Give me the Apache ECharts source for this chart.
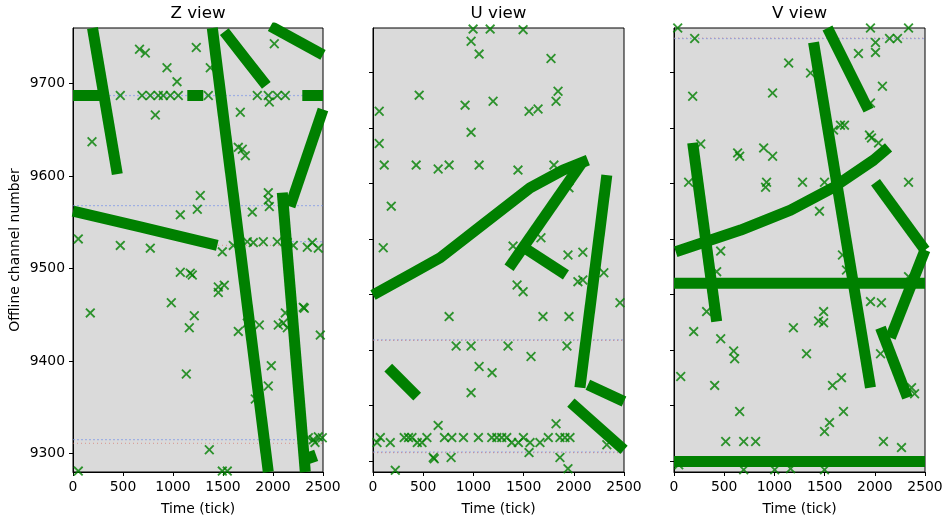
<!DOCTYPE html>
<html>
<head>
<meta charset="utf-8">
<script src="https://cdn.jsdelivr.net/npm/echarts@6/dist/echarts.min.js"></script>
<style>
  html, body { margin: 0; padding: 0; background: #fff; }
  #chart { width: 944px; height: 517px; }
</style>
</head>
<body>
<div id="chart"></div>
<script>
// axis ranges / ticks
const timeTicks = [0, 500, 1000, 1500, 2000, 2500]
const zRange = [9280, 9760]
const uRange = [7680, 8480]
const vRange = [8480, 9280]
const zChTicks = [9300, 9400, 9500, 9600, 9700]
const uChTicks = [7700, 7800, 7900, 8000, 8100, 8200, 8300, 8400]
const vChTicks = [8500, 8600, 8700, 8800, 8900, 9000, 9100, 9200]
const viewNames = ['Z view', 'U view', 'V view']

// dense hit tracks, [tick, channel] vertices
const zTracks = [
  [[195, 9760], [443, 9602]],
  [[1393, 9760], [1953, 9280]],
  [[1513, 9756], [1723, 9727], [1933, 9698]],
  [[1975, 9762], [2500, 9731]],
  [[2170, 9567], [2500, 9672]],
  [[2093, 9582], [2323, 9280]],
  [[0, 9562], [673, 9545], [1443, 9525]],
  [[0, 9687], [300, 9687]],
  [[1143, 9687], [1303, 9687]],
  [[2293, 9687], [2500, 9687]],
  [[2360, 9302], [2400, 9290]],
]
const uTracks = [
  [[0, 7999], [401, 8039], [669, 8066], [1067, 8122], [1564, 8192], [1892, 8224], [2140, 8242]],
  [[1355, 8048], [2080, 8237]],
  [[1464, 8089], [1922, 8035]],
  [[2329, 8215], [2061, 7832]],
  [[2140, 7837], [2500, 7807]],
  [[1971, 7805], [2500, 7720]],
  [[152, 7868], [440, 7816]],
]
const vTracks = [
  [[0, 8820], [2500, 8820]],
  [[0, 8499], [2500, 8499]],
  [[186, 9073], [425, 8751]],
  [[17, 8877], [664, 8916], [1161, 8952], [1589, 8993], [1988, 9042], [2137, 9065]],
  [[1390, 9254], [1957, 8632]],
  [[1529, 9280], [1937, 9132]],
  [[2007, 9002], [2500, 8880]],
  [[2500, 8880], [2156, 8722]],
  [[2057, 8740], [2325, 8614]],
]

// isolated hits
const zHits = [
  [665, 9737], [723, 9733], [1233, 9739], [940, 9717], [1040, 9702], [1373, 9717], [2013, 9743],
  [190, 9637], [823, 9666], [1673, 9669], [1653, 9631], [1693, 9629], [1723, 9622],
  [1273, 9579], [1243, 9564], [1073, 9558], [1793, 9561], [1953, 9582], [1953, 9574], [1963, 9567],
  [53, 9532], [473, 9525], [773, 9522], [1493, 9518],
  [473, 9687], [690, 9687], [773, 9687], [853, 9687], [903, 9687], [973, 9687], [1053, 9687],
  [1353, 9687], [1843, 9687], [1953, 9687], [1963, 9680], [2043, 9687], [2123, 9687],
  [1603, 9525], [1743, 9529], [1803, 9528], [1903, 9529], [2043, 9529], [2143, 9528], [2203, 9525],
  [2343, 9523], [2393, 9528], [2453, 9522],
  [173, 9452], [1073, 9496], [1173, 9495], [1193, 9493], [983, 9463], [1213, 9449], [1163, 9436],
  [1133, 9386], [1453, 9480], [1513, 9482], [1453, 9474], [1363, 9304], [1653, 9432], [1743, 9441],
  [1863, 9439], [1983, 9395], [1953, 9373], [1823, 9359], [2053, 9439], [2103, 9441], [2123, 9452],
  [2303, 9458], [2313, 9457], [2473, 9428], [2143, 9436], [53, 9281], [1493, 9281], [1543, 9281],
  [2353, 9317], [2403, 9315], [2453, 9318], [2493, 9317], [2420, 9312],
]
const uHits = [
  [997, 8478], [1167, 8478], [1495, 8477],
  [977, 8456], [1057, 8433], [1773, 8425], [460, 8359], [917, 8341], [1196, 8348], [62, 8330],
  [1554, 8330], [1644, 8334], [1823, 8348], [1843, 8366], [977, 8292], [62, 8272],
  [112, 8233], [430, 8233], [649, 8226], [758, 8233], [1057, 8233], [1444, 8224], [1802, 8233],
  [182, 8159], [102, 8084], [1952, 8192], [1673, 8102], [1395, 8087], [1942, 8071], [2090, 8076],
  [2041, 8023], [2090, 8026], [2299, 8039], [1435, 8017], [1495, 8005], [2460, 7985],
  [758, 7960], [1693, 7960], [1952, 7960], [828, 7907], [977, 7907], [1345, 7907], [1574, 7888],
  [1932, 7907], [1057, 7870], [1186, 7859], [977, 7823], [649, 7764], [1823, 7767],
  [40, 7733], [73, 7742], [172, 7733], [311, 7742], [354, 7742], [388, 7742], [441, 7733],
  [488, 7733], [537, 7742], [712, 7742], [785, 7742], [901, 7742], [1050, 7742], [1183, 7742],
  [1233, 7742], [1282, 7742], [1332, 7742], [1382, 7733], [1448, 7733], [1498, 7742], [1564, 7733],
  [1663, 7733], [1746, 7742], [1862, 7742], [1912, 7742], [1962, 7742],
  [1554, 7715], [600, 7706], [610, 7704], [778, 7706], [1862, 7706], [222, 7683], [1942, 7686], [2329, 7729],
]
const vHits = [
  [37, 9280], [1957, 9280], [2336, 9280], [206, 9261], [2007, 9254], [2007, 9236], [2147, 9261],
  [2226, 9261], [1837, 9234], [1142, 9217], [1360, 9199], [186, 9157], [982, 9163], [2076, 9175],
  [1957, 9145], [1658, 9105], [1698, 9105], [1589, 9096], [1947, 9087], [1967, 9082], [2037, 9073],
  [266, 9071], [634, 9055], [654, 9049], [893, 9064], [982, 9049], [146, 9002], [922, 9002],
  [912, 8993], [1280, 9002], [1499, 9002], [2336, 9002], [1449, 8950], [465, 8878], [1678, 8871],
  [425, 8841], [1718, 8844], [2336, 8832], [1957, 8787], [2066, 8785], [325, 8769], [196, 8733],
  [465, 8720], [1189, 8740], [1440, 8752], [1490, 8749], [1490, 8769], [594, 8698], [604, 8684],
  [1320, 8693], [2057, 8693], [67, 8652], [405, 8636], [1579, 8636], [1668, 8650], [2366, 8632],
  [2396, 8621], [654, 8589], [1688, 8589], [1549, 8569], [1499, 8553], [515, 8535], [694, 8535],
  [813, 8535], [2086, 8535], [2266, 8524], [694, 8484], [1003, 8484], [1161, 8486], [1499, 8484], [47, 8493],
]

// noisy channel rows: [channel, tick from, tick to]
const zNoiseBlue = [[9687, 0, 2500], [9568, 0, 2500], [9529, 2150, 2500], [9315, 0, 2500]]
const zNoiseRed = [[9525, 1450, 2100], [9311, 0, 2500]]
const uNoiseBlue = [[7918, 0, 2500], [7716, 0, 2500]]
const uNoiseRed = [[7917, 0, 2500], [7715, 0, 2500]]
const vNoiseBlue = [[9261, 0, 2500]]
const vNoiseRed = [[9262, 0, 2500]]

const GREEN = '#008000'
// filled "x" marker, arms a bit thicker than 1px
const X_SYMBOL = 'path://M0,1.3L1.3,0L5,3.7L8.7,0L10,1.3L6.3,5L10,8.7L8.7,10L5,6.3L1.3,10L0,8.7L3.7,5Z'
const FONT = 'DejaVu Sans'

const panels = [
  { left: 73, width: 250, range: zRange, ticks: zChTicks, labels: true, tracks: zTracks, hits: zHits, blue: zNoiseBlue, red: zNoiseRed },
  { left: 373, width: 251, range: uRange, ticks: uChTicks, labels: false, tracks: uTracks, hits: uHits, blue: uNoiseBlue, red: uNoiseRed },
  { left: 674, width: 251, range: vRange, ticks: vChTicks, labels: false, tracks: vTracks, hits: vHits, blue: vNoiseBlue, red: vNoiseRed },
]

const series = []
panels.forEach((p, i) => {
  const noise = (rows, color, dash) => rows.forEach(r => {
    series.push({
      type: 'line', xAxisIndex: i, yAxisIndex: i, symbol: 'none', silent: true, z: 1,
      data: [[r[1], r[0]], [r[2], r[0]]],
      lineStyle: { color, width: 1.2, type: dash },
    })
  })
  noise(p.blue, 'rgba(110,140,235,0.55)', [2, 2])
  noise(p.red, 'rgba(215,90,80,0.45)', [1, 3])
  p.tracks.forEach(pts => {
    series.push({
      type: 'line', xAxisIndex: i, yAxisIndex: i, symbol: 'none', silent: true, z: 3,
      data: pts,
      lineStyle: { color: GREEN, width: 11, cap: 'butt', join: 'round' },
    })
  })
  series.push({
    type: 'scatter', xAxisIndex: i, yAxisIndex: i, silent: true, z: 4,
    symbol: X_SYMBOL, symbolSize: 10,
    itemStyle: { color: GREEN },
    data: p.hits,
  })
})

const plain = v => String(v)

const option = {
  animation: false,
  backgroundColor: '#fff',
  grid: panels.map(p => ({
    left: p.left, top: 28, width: p.width, height: 444,
    outerBoundsMode: 'none', containLabel: false,
    show: true, backgroundColor: '#dadada', borderColor: '#000', borderWidth: 1,
  })),
  xAxis: panels.map((p, i) => ({
    type: 'value', gridIndex: i, min: 0, max: 2500, interval: 500,
    name: 'Time (tick)', nameLocation: 'middle', nameGap: 30,
    nameTextStyle: { fontFamily: FONT, fontSize: 13.9, color: '#000' },
    axisLine: { show: true, lineStyle: { color: '#000', width: 1 } },
    axisTick: { show: true, length: 4, lineStyle: { color: '#000' } },
    axisLabel: { fontFamily: FONT, fontSize: 13.9, color: '#000', margin: 8, customValues: timeTicks, formatter: plain },
    splitLine: { show: false },
  })),
  yAxis: panels.map((p, i) => ({
    type: 'value', gridIndex: i, min: p.range[0], max: p.range[1],
    name: i === 0 ? 'Offline channel number' : '', nameLocation: 'middle', nameGap: 51,
    nameTextStyle: { fontFamily: FONT, fontSize: 13.9, color: '#000' },
    axisLine: { show: true, lineStyle: { color: '#000', width: 1 } },
    axisTick: { show: true, length: 4, lineStyle: { color: '#000' }, customValues: p.ticks },
    axisLabel: { show: p.labels, fontFamily: FONT, fontSize: 13.9, color: '#000', margin: 8, customValues: p.ticks, formatter: plain },
    splitLine: { show: false },
  })),
  graphic: panels.map((p, i) => ({
    type: 'text', x: p.left + p.width / 2, y: 14,
    style: { text: viewNames[i], font: '16.7px "DejaVu Sans"', fill: '#000', textAlign: 'center', textVerticalAlign: 'middle' },
  })),
  series,
}

const chart = echarts.init(document.getElementById('chart'))
chart.setOption(option)
window.addEventListener('resize', () => chart.resize())
</script>
</body>
</html>
